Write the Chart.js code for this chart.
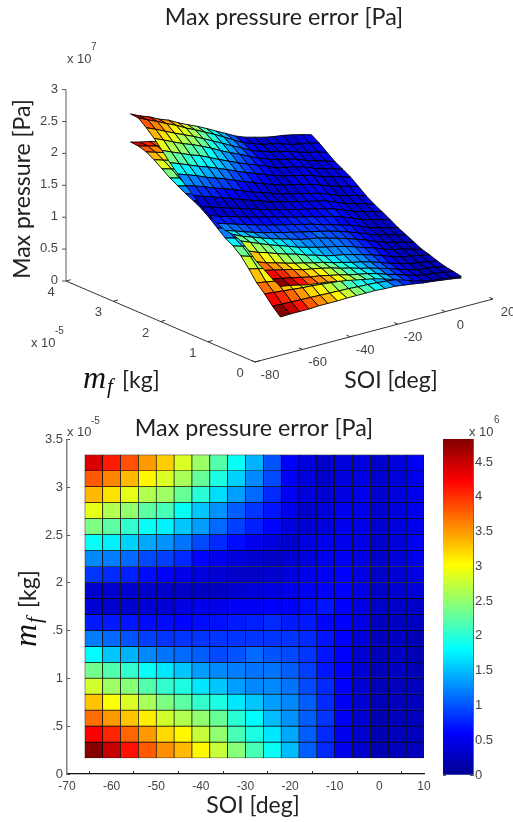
<!DOCTYPE html>
<html>
<head>
<meta charset="utf-8">
<title>Max pressure error</title>
<script src="https://cdn.jsdelivr.net/npm/chart.js@4"></script>
<style>
html,body{margin:0;padding:0;background:#fff;width:513px;height:822px;overflow:hidden}
canvas{position:absolute;display:block;filter:blur(0.3px)}
#surface{left:0;top:0}
#heat{left:0;top:410px}
#bar{left:430px;top:410px}
</style>
</head>
<body>
<canvas id="surface" width="513" height="410"></canvas>
<canvas id="heat" width="513" height="412"></canvas>
<canvas id="bar" width="83" height="412"></canvas>
<script>
// ---------- data ----------
const titleText = "Max pressure error [Pa]";
const soiEdges = [-66,-62,-58,-54,-50,-46,-42,-38,-34,-30,-26,-22,-18,-14,-10,-6,-2,2,6,10];
const mfEdges = [0.167,0.334,0.501,0.668,0.835,1.002,1.169,1.336,1.503,1.67,1.837,2.004,2.171,2.338,2.505,2.672,2.839,3.006,3.173,3.34];

// Error map in 1e6 Pa: first row is the top row of the lower plot (largest m_f)
const errorGrid = [
[4.4,4.1,3.85,3.5,3.25,2.85,2.55,2.2,1.85,1.45,1.0,0.6,0.42,0.32,0.42,0.42,0.32,0.42,0.55],
[3.8,3.6,3.35,3.05,2.85,2.6,2.3,1.95,1.6,1.25,0.95,0.55,0.42,0.32,0.42,0.45,0.35,0.4,0.5],
[3.35,3.15,2.9,2.65,2.55,2.3,2.0,1.65,1.35,1.1,0.8,0.55,0.42,0.35,0.45,0.5,0.35,0.42,0.5],
[2.9,2.65,2.5,2.25,2.15,1.85,1.55,1.3,1.05,0.85,0.7,0.5,0.32,0.4,0.5,0.48,0.35,0.42,0.52],
[2.4,2.25,2.05,1.85,1.75,1.55,1.35,1.1,0.9,0.75,0.62,0.42,0.38,0.42,0.5,0.48,0.35,0.42,0.5],
[1.85,1.75,1.6,1.4,1.3,1.15,0.95,0.8,0.65,0.5,0.42,0.33,0.45,0.5,0.5,0.45,0.32,0.4,0.55],
[1.25,1.2,1.1,0.95,0.9,0.8,0.62,0.5,0.42,0.35,0.3,0.35,0.42,0.5,0.55,0.45,0.32,0.4,0.5],
[0.85,0.8,0.75,0.65,0.6,0.48,0.42,0.38,0.32,0.3,0.35,0.42,0.5,0.55,0.6,0.45,0.3,0.38,0.45],
[0.35,0.35,0.35,0.32,0.32,0.3,0.28,0.28,0.35,0.4,0.45,0.5,0.55,0.6,0.6,0.45,0.3,0.35,0.4],
[0.38,0.35,0.35,0.38,0.38,0.45,0.5,0.5,0.55,0.55,0.6,0.6,0.65,0.7,0.6,0.45,0.3,0.32,0.32],
[0.72,0.72,0.7,0.65,0.65,0.62,0.65,0.68,0.72,0.75,0.8,0.72,0.72,0.62,0.6,0.45,0.25,0.28,0.28],
[1.2,1.1,1.0,0.9,0.85,0.85,0.85,0.85,0.85,0.85,0.85,0.85,0.8,0.7,0.6,0.4,0.25,0.28,0.2],
[1.8,1.55,1.45,1.25,1.15,1.1,1.05,0.95,1.0,1.1,1.0,0.95,0.85,0.7,0.6,0.35,0.22,0.28,0.2],
[2.35,2.2,2.05,1.85,1.7,1.55,1.35,1.25,1.2,1.15,1.15,1.05,0.9,0.7,0.6,0.35,0.22,0.28,0.2],
[2.8,2.55,2.45,2.2,2.05,1.95,1.7,1.55,1.35,1.25,1.25,1.15,0.95,0.8,0.6,0.35,0.22,0.25,0.25],
[3.3,3.0,2.85,2.6,2.4,2.25,2.05,1.95,1.7,1.55,1.35,1.25,1.05,0.8,0.55,0.35,0.2,0.25,0.25],
[3.7,3.5,3.3,3.1,2.8,2.65,2.5,2.3,2.0,1.8,1.5,1.3,1.05,0.85,0.55,0.35,0.18,0.25,0.25],
[4.25,4.05,3.75,3.5,3.2,3.05,2.75,2.5,2.15,1.95,1.7,1.4,1.05,0.8,0.5,0.33,0.18,0.25,0.25],
[4.8,4.5,4.15,3.8,3.55,3.35,3.05,2.75,2.45,2.15,1.85,1.5,1.05,0.8,0.5,0.33,0.18,0.25,0.25]
];

// Lower sheet of max pressure in 1e7 Pa: first row is the smallest m_f, columns follow soiEdges
const pressureGrid = [
[.514,.52,.52,.52,.53,.53,.53,.535,.535,.535,.535,.525,.52,.50,.48,.455,.44,.42,.40,.375],
[.63,.625,.62,.615,.61,.605,.60,.595,.59,.58,.575,.565,.55,.535,.515,.49,.47,.45,.425,.40],
[.77,.755,.74,.725,.71,.70,.685,.67,.655,.64,.625,.61,.59,.57,.55,.525,.50,.475,.45,.42],
[.89,.865,.84,.82,.80,.78,.76,.74,.72,.70,.68,.66,.64,.615,.59,.565,.54,.51,.485,.455],
[1.055,1.02,.985,.955,.925,.895,.865,.84,.81,.785,.76,.73,.71,.68,.65,.62,.59,.56,.53,.50],
[1.205,1.16,1.115,1.075,1.04,1.005,.97,.94,.905,.875,.845,.815,.785,.75,.72,.685,.65,.615,.58,.54],
[1.31,1.265,1.225,1.19,1.15,1.11,1.075,1.04,1.005,.97,.935,.90,.865,.83,.79,.75,.71,.67,.635,.60],
[1.38,1.34,1.30,1.26,1.22,1.185,1.145,1.11,1.075,1.04,1.005,.97,.93,.89,.85,.81,.77,.735,.695,.66],
[1.485,1.44,1.395,1.355,1.31,1.27,1.23,1.19,1.15,1.11,1.07,1.03,.99,.955,.915,.875,.83,.79,.75,.71],
[1.59,1.54,1.495,1.45,1.405,1.36,1.32,1.275,1.235,1.19,1.15,1.11,1.07,1.03,.99,.95,.90,.86,.82,.78],
[1.68,1.63,1.585,1.54,1.495,1.45,1.405,1.36,1.315,1.27,1.23,1.19,1.15,1.105,1.065,1.02,.975,.93,.885,.84],
[1.75,1.70,1.66,1.615,1.57,1.525,1.48,1.435,1.39,1.35,1.305,1.26,1.22,1.18,1.135,1.09,1.045,1.0,.95,.90],
[1.81,1.77,1.73,1.685,1.64,1.60,1.555,1.51,1.47,1.425,1.38,1.34,1.30,1.25,1.21,1.165,1.12,1.07,1.02,.97],
[1.88,1.84,1.80,1.755,1.715,1.675,1.635,1.59,1.55,1.505,1.465,1.425,1.38,1.34,1.30,1.255,1.21,1.16,1.11,1.06],
[1.95,1.91,1.87,1.83,1.79,1.75,1.71,1.67,1.63,1.59,1.55,1.51,1.47,1.43,1.39,1.35,1.30,1.26,1.21,1.16],
[2.04,2.00,1.955,1.915,1.875,1.835,1.795,1.755,1.715,1.675,1.635,1.595,1.55,1.51,1.47,1.43,1.38,1.33,1.28,1.23],
[2.13,2.085,2.04,2.0,1.955,1.915,1.875,1.83,1.79,1.75,1.71,1.665,1.625,1.585,1.54,1.50,1.45,1.40,1.35,1.30],
[2.20,2.155,2.11,2.07,2.025,1.985,1.94,1.90,1.86,1.815,1.775,1.735,1.695,1.655,1.61,1.57,1.53,1.48,1.44,1.39],
[2.24,2.20,2.16,2.12,2.08,2.04,2.0,1.96,1.92,1.88,1.84,1.80,1.76,1.72,1.68,1.64,1.60,1.56,1.52,1.48],
[2.25,2.21,2.18,2.14,2.11,2.07,2.03,2.0,1.96,1.92,1.89,1.85,1.81,1.78,1.73,1.70,1.69,1.65,1.60,1.56]
];

const surfaceZTicks = [0,0.5,1,1.5,2,2.5,3];
const surfaceZLabels = ["0","0.5","1","1.5","2","2.5","3"];
const surfaceMfTicks = [0,1,2,3,4];
const surfaceSoiTicks = [-80,-60,-40,-20,0,20];
const heatXTicks = [-70,-60,-50,-40,-30,-20,-10,0,10];
const heatYLabels = ["0",".5","1",".5","2","2.5","3","3.5"];
const colorbarMax = 4.83;
const colorbarLabels = ["0","0.5","1","1.5","2","2.5","3","3.5","4","4.5"];

// jet colour map: position, red, green, blue
const jetStops = [[0,0,0,143],[0.125,0,0,255],[0.375,0,255,255],[0.625,255,255,0],[0.875,255,0,0],[1,128,0,0]];

// ---------- helpers ----------
Chart.defaults.animation = false;
Chart.defaults.responsive = false;
Chart.defaults.maintainAspectRatio = false;
Chart.defaults.events = [];
Chart.defaults.plugins.legend.display = false;
Chart.defaults.plugins.tooltip.enabled = false;

function jet(v){
  const t = Math.min(1, Math.max(0, v / colorbarMax));
  for (let i = 1; i < jetStops.length; i++){
    const a = jetStops[i-1], b = jetStops[i];
    if (t <= b[0]){
      const f = (t - a[0]) / (b[0] - a[0]);
      return `rgb(${Math.round(a[1]+(b[1]-a[1])*f)},${Math.round(a[2]+(b[2]-a[2])*f)},${Math.round(a[3]+(b[3]-a[3])*f)})`;
    }
  }
  return "rgb(128,0,0)";
}
// orthographic view of the 3-D box, from its three visible corners
function project(soi, mf, z){
  return {
    x: 255 + 2.38 * (soi + 80) - 47.25 * mf,
    y: 362 - 0.63 * (soi + 80) - 20.25 * mf - 63.8 * z
  };
}
const SANS = "Lato, 'Noto Sans', sans-serif";
const ARIAL = "'Liberation Sans', Arial, sans-serif";
const SERIF = "'Liberation Serif', serif";
function put(ctx, text, x, y, font, color, align, rot){
  ctx.save();
  ctx.translate(x, y);
  if (rot) ctx.rotate(rot);
  ctx.font = font; ctx.fillStyle = color;
  ctx.textAlign = align || "left"; ctx.textBaseline = "alphabetic";
  ctx.fillText(text, 0, 0);
  ctx.restore();
}
function massLabel(ctx, x, y, rot){
  ctx.save();
  ctx.translate(x, y);
  if (rot) ctx.rotate(rot);
  put(ctx, "m", 0, 0, "italic 32px " + SERIF, "#111");
  put(ctx, "f", 24, 5, "italic 21px " + SERIF, "#111");
  put(ctx, "[kg]", 39, 0, "23px " + SANS, "#222");
  ctx.restore();
}

// ---------- 3-D surface ----------
const errAt = (j, k) => errorGrid[18 - Math.min(j, 18)][Math.min(k, 18)];
const lowerZ = (j, k) => pressureGrid[j][k];
const upperZ = (j, k) => pressureGrid[j][k] + errAt(j, k) / 10;

function sheetFaces(zOf){
  const out = [];
  for (let j = 18; j >= 0; j--){
    for (let k = 0; k < 19; k++){
      const corners = [[j,k],[j,k+1],[j+1,k+1],[j+1,k],[j,k]];
      out.push({
        type: "scatter", showLine: true, fill: "shape", tension: 0,
        pointRadius: 0, borderWidth: 1, borderColor: "rgba(0,0,0,0.9)",
        backgroundColor: jet(errAt(j, k)),
        data: corners.map(([a, b]) => project(soiEdges[b], mfEdges[a], zOf(a, b)))
      });
    }
  }
  return out;
}
function segment(p, q, color, width){
  return {type:"scatter", showLine:true, fill:false, tension:0, pointRadius:0,
          borderWidth:width, borderColor:color, data:[p, q]};
}
const axisColor = "#333";
const axisSets = [
  segment(project(-80,4,0), project(-80,4,3), "#777", 1.2),
  segment(project(-80,4,0), project(-80,0,0), axisColor, 1),
  segment(project(-80,0,0), project(20,0,0), axisColor, 1)
];
surfaceZTicks.forEach(z => {
  const p = project(-80,4,z);
  axisSets.push(segment(p, {x:p.x-4, y:p.y}, "#555", 1));
});
surfaceMfTicks.forEach(m => axisSets.push(segment(project(-80,m,0), project(-78,m,0), "#333", 1)));
surfaceSoiTicks.forEach(s => axisSets.push(segment(project(s,0,0), project(s,0.08,0), "#333", 1)));

// painter's order: axes, lower sheet, upper sheet. Chart.js paints dataset 0 last.
const paintOrder = [...axisSets, ...sheetFaces(lowerZ), ...sheetFaces(upperZ)];

const surfaceText = {
  id: "surfaceText",
  afterDraw(chart){
    const c = chart.ctx, tick = "13px " + ARIAL, col = "#444";
    put(c, titleText, 284, 25, "23.3px " + SANS, "#222", "center");
    put(c, "x 10", 67, 63, tick, col);
    put(c, "7", 91, 50, "10px " + ARIAL, col);
    surfaceZTicks.forEach((z, i) => {
      const p = project(-80,4,z);
      put(c, surfaceZLabels[i], p.x - 8, p.y + 3, tick, col, "right");
    });
    surfaceMfTicks.forEach(m => {
      const p = project(-80,m,0);
      put(c, String(m), p.x - 15, p.y + 15, tick, col, "center");
    });
    put(c, "x 10", 31, 347, tick, col);
    put(c, "-5", 55, 334, "10px " + ARIAL, col);
    surfaceSoiTicks.forEach(s => {
      const p = project(s,0,0);
      put(c, String(s), p.x + 15, p.y + 17, tick, col, "center");
    });
    put(c, "Max pressure [Pa]", 30, 189, "23px " + SANS, "#222", "center", -Math.PI/2);
    massLabel(c, 83, 388);
    put(c, "SOI [deg]", 391, 388, "23px " + SANS, "#222", "center");
  }
};
new Chart(document.getElementById("surface"), {
  type: "scatter",
  data: { datasets: paintOrder.slice().reverse() },
  options: {
    layout: { padding: 0 },
    scales: {
      x: { type:"linear", display:false, min:0, max:513 },
      y: { type:"linear", display:false, min:0, max:410, reverse:true }
    }
  },
  plugins: [surfaceText]
});

// ---------- heat map ----------
const soiCentres = soiEdges.slice(0, 19).map((s, i) => (s + soiEdges[i+1]) / 2);
const heatSets = errorGrid.map((row, r) => {
  const j = 18 - r;
  return {
    data: row.map((v, k) => ({ x: soiCentres[k], y: [mfEdges[j], mfEdges[j+1]] })),
    backgroundColor: row.map(jet),
    borderColor: "rgba(0,0,0,0.95)",
    borderWidth: 0.7,
    borderSkipped: false,
    barPercentage: 1,
    categoryPercentage: 1,
    grouped: false
  };
});
const heatText = {
  id: "heatText",
  afterDraw(chart){
    const c = chart.ctx, col = "#444";
    put(c, titleText, 254, 26, "23.3px " + SANS, "#222", "center");
    put(c, "x 10", 67, 26, "13px " + ARIAL, col);
    put(c, "-5", 91, 14, "10px " + ARIAL, col);
    put(c, "SOI [deg]", 253, 403, "23px " + SANS, "#222", "center");
    massLabel(c, 36, 237, -Math.PI/2);
  }
};
new Chart(document.getElementById("heat"), {
  type: "bar",
  data: { datasets: heatSets },
  options: {
    layout: { padding: { top: 29.5, right: 89, left: 0, bottom: 0 } },
    scales: {
      x: {
        type: "linear", min: -70, max: 10, offset: false,
        afterFit(s){ s.height = 48; },
        afterBuildTicks(s){ s.ticks = heatXTicks.map(v => ({ value: v })); },
        border: { color: "#111", width: 1.2 },
        grid: { drawOnChartArea: false, tickLength: -3, color: "#333" },
        ticks: { color: "#444", font: { family: ARIAL, size: 12 }, padding: 8, maxRotation: 0, autoSkip: false, callback: v => String(v) }
      },
      y: {
        type: "linear", min: 0, max: 3.5,
        afterFit(s){ s.width = 67; },
        border: { color: "#808080", width: 1.5 },
        grid: { drawOnChartArea: false, tickLength: -3, color: "#555" },
        ticks: { color: "#444", font: { family: ARIAL, size: 13 }, padding: 7, stepSize: 0.5, autoSkip: false,
                 callback: (v, i) => heatYLabels[i] }
      }
    }
  },
  plugins: [heatText]
});

// ---------- colour bar ----------
const barText = {
  id: "barText",
  afterDraw(chart){
    const c = chart.ctx, col = "#444";
    put(c, "x 10", 39, 26, "13px " + ARIAL, col);
    put(c, "6", 64, 13, "10px " + ARIAL, col);
  }
};
new Chart(document.getElementById("bar"), {
  type: "bar",
  data: {
    labels: [""],
    datasets: [{
      data: [[0, colorbarMax]],
      barPercentage: 1, categoryPercentage: 1, borderWidth: 0,
      backgroundColor(ctx){
        const a = ctx.chart.chartArea;
        if (!a) return "#00f";
        const g = ctx.chart.ctx.createLinearGradient(0, a.bottom, 0, a.top);
        jetStops.forEach(s => g.addColorStop(s[0], `rgb(${s[1]},${s[2]},${s[3]})`));
        return g;
      }
    }]
  },
  options: {
    layout: { padding: { top: 29, left: 13, right: 0, bottom: 47 } },
    scales: {
      x: { display: false },
      y: {
        position: "right", min: 0, max: colorbarMax,
        afterFit(s){ s.width = 40; },
        afterBuildTicks(s){ s.ticks = colorbarLabels.map((t, i) => ({ value: i * 0.5 })); },
        border: { color: "#666", width: 1 },
        grid: { drawOnChartArea: false, tickLength: -3, color: "#555" },
        ticks: { color: "#444", font: { family: ARIAL, size: 13 }, padding: 5, autoSkip: false, callback: (v, i) => colorbarLabels[i] }
      },
      yLeft: {
        position: "left", min: 0, max: colorbarMax,
        afterFit(s){ s.width = 0; },
        afterBuildTicks(s){ s.ticks = colorbarLabels.map((t, i) => ({ value: i * 0.5 })); },
        border: { color: "#666", width: 1 },
        grid: { drawOnChartArea: false, tickLength: -3, color: "#555" },
        ticks: { display: false }
      }
    }
  },
  plugins: [barText]
});
</script>
</body>
</html>
